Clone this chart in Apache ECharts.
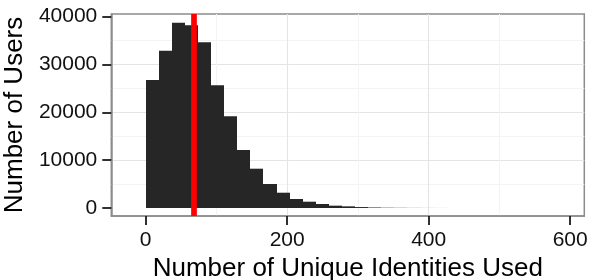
<!DOCTYPE html>
<html>
<head>
<meta charset="utf-8">
<script src="https://cdn.jsdelivr.net/npm/echarts@6/dist/echarts.min.js"></script>
<style>
  html, body { margin: 0; padding: 0; background: #fff; }
  #chart { width: 589px; height: 280px; }
</style>
</head>
<body>
<div id="chart"></div>
<script>
// histogram data (bins of equal width starting at 0)
const binWidth = 18.5
const counts = [26760, 32900, 38750, 38200, 34640, 25650, 19170, 12130, 8220, 5020,
  3200, 1880, 1320, 840, 490, 350, 200, 110, 60, 40, 25, 15, 10, 8, 5, 4, 3, 2, 1, 1]
const meanValue = 68

// axes
const xTicks = [0, 200, 400, 600]
const yTicks = [0, 10000, 20000, 30000, 40000]
const xRange = [-48.6, 620]
const yRange = [-1670, 40560]

const bins = counts.map((c, i) => [i * binWidth, (i + 1) * binWidth, c])

const font = "'Liberation Sans', Arial, sans-serif"
const chart = echarts.init(document.getElementById("chart"), null, { renderer: "canvas" })

chart.setOption({
  animation: false,
  grid: {
    left: 111.3,
    right: 4.7,
    top: 14,
    bottom: 64,
    containLabel: false,
    outerBoundsMode: "none",
    show: true,
    borderColor: "#8c8c8c",
    borderWidth: 1.5,
    backgroundColor: "#fff"
  },
  xAxis: {
    type: "value",
    min: xRange[0],
    max: xRange[1],
    splitNumber: 3,
    name: "Number of Unique Identities Used",
    nameLocation: "middle",
    nameGap: 32,
    nameTextStyle: { fontFamily: font, fontSize: 26, color: "#000" },
    axisLine: { show: true, onZero: false, lineStyle: { color: "#8c8c8c", width: 1.5 } },
    axisTick: { show: true, customValues: xTicks, length: 9, lineStyle: { color: "#1a1a1a", width: 1.8 } },
    axisLabel: { customValues: xTicks, formatter: v => String(v), margin: 14, fontFamily: font, fontSize: 21, color: "#111" },
    splitLine: { show: true, showMinLine: false, showMaxLine: false, lineStyle: { color: "#e4e4e4", width: 1.1 } },
    minorTick: { show: false, splitNumber: 2 },
    minorSplitLine: { show: true, lineStyle: { color: "#f4f4f4", width: 1 } }
  },
  yAxis: {
    type: "value",
    min: yRange[0],
    max: yRange[1],
    splitNumber: 4,
    name: "Number of Users",
    nameLocation: "middle",
    nameGap: 77,
    nameTextStyle: { fontFamily: font, fontSize: 26, color: "#000" },
    axisLine: { show: true, onZero: false, lineStyle: { color: "#8c8c8c", width: 1.5 } },
    axisTick: { show: true, customValues: yTicks, length: 9, lineStyle: { color: "#1a1a1a", width: 1.8 } },
    axisLabel: { customValues: yTicks, formatter: v => String(v), margin: 14, fontFamily: font, fontSize: 21, color: "#111" },
    splitLine: { show: true, showMinLine: false, showMaxLine: false, lineStyle: { color: "#e4e4e4", width: 1.1 } },
    minorTick: { show: false, splitNumber: 2 },
    minorSplitLine: { show: true, lineStyle: { color: "#f4f4f4", width: 1 } }
  },
  series: [
    {
      type: "custom",
      data: bins,
      encode: { x: [0, 1], y: 2 },
      renderItem: (params, api) => {
        const p0 = api.coord([api.value(0), api.value(2)])
        const p1 = api.coord([api.value(1), 0])
        const x0 = Math.round(p0[0])
        const x1 = Math.round(p1[0])
        return {
          type: "rect",
          shape: { x: x0, y: p0[1], width: x1 - x0, height: p1[1] - p0[1] },
          style: { fill: "#262626" }
        }
      },
      markLine: {
        silent: true,
        symbol: "none",
        label: { show: false },
        lineStyle: { color: "#ff0000", width: 5.7, type: "solid" },
        data: [{ xAxis: meanValue }]
      }
    }
  ]
})
</script>
</body>
</html>
